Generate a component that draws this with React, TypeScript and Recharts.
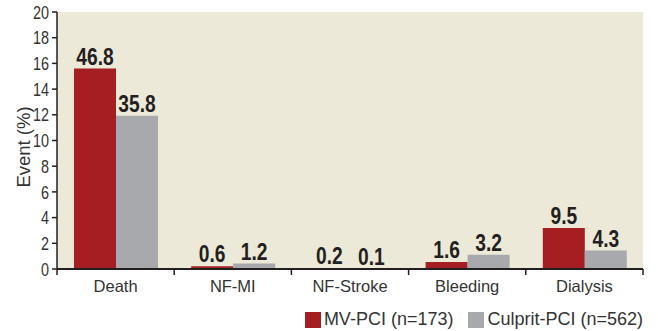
import React from "react";
import {
  Bar,
  BarChart,
  CartesianGrid,
  LabelList,
  Legend,
  XAxis,
  YAxis,
} from "recharts";

// categories and values
const categories = ["Death", "NF-MI", "NF-Stroke", "Bleeding", "Dialysis"];
// bar heights as drawn against the 0-20 axis
const mvHeights = [15.6, 0.22, 0.07, 0.55, 3.2];
const culpritHeights = [11.93, 0.42, 0.03, 1.1, 1.43];
// printed values above the bars
const mvLabels = ["46.8", "0.6", "0.2", "1.6", "9.5"];
const culpritLabels = ["35.8", "1.2", "0.1", "3.2", "4.3"];
const yTicks = [0, 2, 4, 6, 8, 10, 12, 14, 16, 18, 20];

const RED = "#A51E22";
const GRAY = "#A7A9AC";
const BG = "#ECE9D8";
const INK = "#231F20";
const SANS = "'Liberation Sans', Arial, sans-serif";

const WIDTH = 658;
const HEIGHT = 331;
const MARGIN = { top: 12, right: 15, bottom: 0, left: 0 };
const Y_WIDTH = 57;
const PLOT_W = WIDTH - MARGIN.left - MARGIN.right - Y_WIDTH;

const data = categories.map((name, i) => ({
  name,
  mv: mvHeights[i],
  culprit: culpritHeights[i],
  mvLabel: mvLabels[i],
  culpritLabel: culpritLabels[i],
}));

// category label plus tick marks at the band edges
const CategoryTick = (props: any) => {
  const { x, y, payload, index } = props;
  const band = PLOT_W / categories.length;
  return (
    <g>
      <line x1={x - band / 2} x2={x - band / 2} y1={y} y2={y + 6} stroke={INK} strokeWidth={1.5} />
      {index === categories.length - 1 && (
        <line x1={x + band / 2} x2={x + band / 2} y1={y} y2={y + 6} stroke={INK} strokeWidth={1.5} />
      )}
      <text x={x} y={y + 23} textAnchor="middle" fontFamily={SANS} fontSize={16.5} fill="#333">
        {payload.value}
      </text>
    </g>
  );
};

// condensed look for the axis numbers
const ValueTick = (props: any) => {
  const { x, y, payload } = props;
  return (
    <text
      transform={`translate(${x}, ${y}) scale(0.8, 1)`}
      textAnchor="end"
      dominantBaseline="central"
      fontFamily={SANS}
      fontSize={18}
      fill="#333"
    >
      {payload.value}
    </text>
  );
};

const YTitle = () => (
  <text
    transform="translate(23, 147) rotate(-90)"
    textAnchor="middle"
    dominantBaseline="central"
    style={{ fontFamily: SANS, fontSize: 18.5, fill: "#333" }}
  >
    Event (%)
  </text>
);

const BarValue = (props: any) => {
  const { x, y, width, value } = props;
  return (
    <text
      transform={`translate(${x + width / 2}, ${y - 4}) scale(0.8, 1)`}
      textAnchor="middle"
      fontFamily={SANS}
      fontSize={24}
      fontWeight={700}
      fill={INK}
    >
      {value}
    </text>
  );
};

const LegendContent = () => (
  <div
    style={{
      display: "flex",
      justifyContent: "flex-end",
      alignItems: "center",
      paddingTop: 8,
      fontFamily: SANS,
      fontSize: 18,
      color: "#333",
    }}
  >
    {[
      { color: RED, text: "MV-PCI (n=173)" },
      { color: GRAY, text: "Culprit-PCI (n=562)" },
    ].map((item, i) => (
      <div key={i} style={{ display: "flex", alignItems: "center", marginLeft: i ? 15 : 0 }}>
        <span style={{ width: 16, height: 16, background: item.color, marginRight: 3 }} />
        <span>{item.text}</span>
      </div>
    ))}
  </div>
);

export default function App() {
  return (
    <div style={{ width: WIDTH, height: HEIGHT, background: "#fff" }}>
      <style>{`body{margin:0}`}</style>
      <BarChart
        width={WIDTH}
        height={HEIGHT}
        data={data}
        margin={MARGIN}
        barCategoryGap="14.5%"
        barGap={0}
      >
        <CartesianGrid horizontal={false} vertical={false} fill={BG} />
        <XAxis
          dataKey="name"
          height={32}
          tickLine={false}
          tickSize={0}
          tickMargin={0}
          axisLine={{ stroke: INK, strokeWidth: 2 }}
          tick={<CategoryTick />}
          interval={0}
        />
        <YAxis
          width={Y_WIDTH}
          domain={[0, 20]}
          ticks={yTicks}
          interval={0}
          axisLine={{ stroke: INK, strokeWidth: 1.5 }}
          tickLine={{ stroke: INK, strokeWidth: 1.5 }}
          tickSize={5}
          tickMargin={3}
          tick={<ValueTick />}
          label={<YTitle />}
        />
        <Legend verticalAlign="bottom" align="right" height={30} content={<LegendContent />} />
        <Bar dataKey="mv" fill={RED} isAnimationActive={false}>
          <LabelList dataKey="mvLabel" content={<BarValue />} />
        </Bar>
        <Bar dataKey="culprit" fill={GRAY} isAnimationActive={false}>
          <LabelList dataKey="culpritLabel" content={<BarValue />} />
        </Bar>
      </BarChart>
    </div>
  );
}
